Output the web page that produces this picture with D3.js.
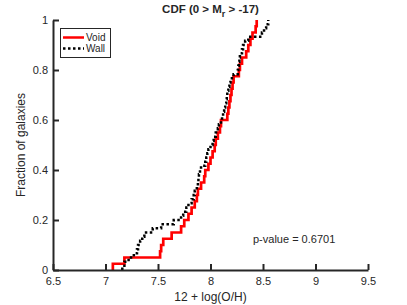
<!DOCTYPE html>
<html><head><meta charset="utf-8">
<script src="https://cdn.jsdelivr.net/npm/d3@7"></script>
<style>
body{margin:0;background:#fff;}
text{font-family:"Liberation Sans",Arial,sans-serif;fill:#262626;}
</style></head>
<body><svg id="c" width="407" height="305"></svg>
<script>
const voidValues = [7.07,7.18,7.52,7.53,7.55,7.63,7.72,7.75,7.79,7.82,7.85,7.87,7.88,7.91,7.94,7.95,7.98,8.00,8.02,8.04,8.05,8.07,8.09,8.10,8.16,8.17,8.18,8.19,8.20,8.21,8.22,8.27,8.28,8.30,8.34,8.36,8.38,8.40,8.43,8.44];
const wallValues = [7.16,7.18,7.22,7.27,7.30,7.31,7.33,7.35,7.37,7.45,7.53,7.65,7.72,7.74,7.77,7.79,7.82,7.84,7.85,7.87,7.88,7.885,7.89,7.90,7.91,7.95,7.96,7.97,7.98,8.00,8.02,8.03,8.05,8.07,8.08,8.10,8.11,8.12,8.13,8.14,8.15,8.155,8.16,8.17,8.18,8.19,8.22,8.26,8.265,8.27,8.275,8.28,8.30,8.31,8.33,8.36,8.49,8.51,8.53,8.55];
const xTicks = [6.5,7,7.5,8,8.5,9,9.5];
const yTicks = [0,0.2,0.4,0.6,0.8,1];
const seriesNames = ["Void","Wall"];
const pValue = "0.6701";

const svg = d3.select("#c");
const L=53,R=368,T=20,B=270;
const x = d3.scaleLinear().domain([6.5,9.5]).range([L,R]);
const y = d3.scaleLinear().domain([0,1]).range([B,T]);

function cdfPoints(vals){
  const s = vals.slice().sort(d3.ascending), n=s.length;
  const pts=[[s[0],0]];
  s.forEach((v,i)=>pts.push([v,(i+1)/n]));
  return pts;
}
const line = d3.line().x(d=>x(d[0])).y(d=>y(d[1])).curve(d3.curveStepAfter);

svg.append("path").datum(cdfPoints(voidValues)).attr("d",line)
  .attr("fill","none").attr("stroke","#ff0000").attr("stroke-width",2.7);
svg.append("path").datum(cdfPoints(wallValues)).attr("d",line)
  .attr("fill","none").attr("stroke","#000").attr("stroke-width",2.5)
  .attr("stroke-dasharray","2.5,2.5");

// axes
const xa = svg.append("g").attr("transform",`translate(0,${B})`)
  .call(d3.axisBottom(x).tickValues(xTicks).tickFormat(d3.format("")).tickSizeInner(-6).tickSizeOuter(0).tickPadding(10));
const ya = svg.append("g").attr("transform",`translate(${L},0)`)
  .call(d3.axisLeft(y).tickValues(yTicks).tickFormat(d=>d===0||d===1?d:d3.format(".1f")(d)).tickSizeInner(-6).tickSizeOuter(0).tickPadding(10));
[xa,ya].forEach(g=>{
  g.select(".domain").attr("stroke","#262626").attr("stroke-width",2);
  g.selectAll(".tick line").attr("stroke","#262626").attr("stroke-width",2);
  g.selectAll(".tick text").attr("fill","#262626").style("font-size","11px").style("font-family","'Liberation Sans',Arial,sans-serif");
});
xa.selectAll(".tick text").attr("dy","0.71em").attr("y",7);
ya.selectAll(".tick text").attr("x",-5);

// labels
svg.append("text").attr("x",(L+R)/2).attr("y",301).attr("text-anchor","middle")
  .style("font-size","12px").text("12 + log(O/H)");
svg.append("text").attr("transform",`translate(25,${(T+B)/2}) rotate(-90)`).attr("text-anchor","middle")
  .style("font-size","12px").text("Fraction of galaxies");
const title = svg.append("text").attr("x",(L+R)/2).attr("y",13).attr("text-anchor","middle")
  .style("font-size","11.5px").style("font-weight","bold").attr("fill","#000");
title.append("tspan").text("CDF (0 > M");
title.append("tspan").attr("dy",4).style("font-size","9px").text("r");
title.append("tspan").attr("dy",-4).text(" > -17)");

svg.append("text").attr("x",253).attr("y",243).style("font-size","11px").text("p-value = "+pValue);

// legend
const lg = svg.append("g");
lg.append("rect").attr("x",60.5).attr("y",28.5).attr("width",50).attr("height",29)
  .attr("fill","#fff").attr("stroke","#262626").attr("stroke-width",1);
const styles=[{c:"#ff0000",d:null},{c:"#000",d:"2.5,2.5"}];
seriesNames.forEach((nm,i)=>{
  const yy = 37.5+i*11;
  lg.append("line").attr("x1",63).attr("x2",84).attr("y1",yy).attr("y2",yy)
    .attr("stroke",styles[i].c).attr("stroke-width",2.5).attr("stroke-dasharray",styles[i].d);
  lg.append("text").attr("x",86).attr("y",yy+3.5).style("font-size","10px").attr("fill","#000").text(nm);
});
</script></body></html>
